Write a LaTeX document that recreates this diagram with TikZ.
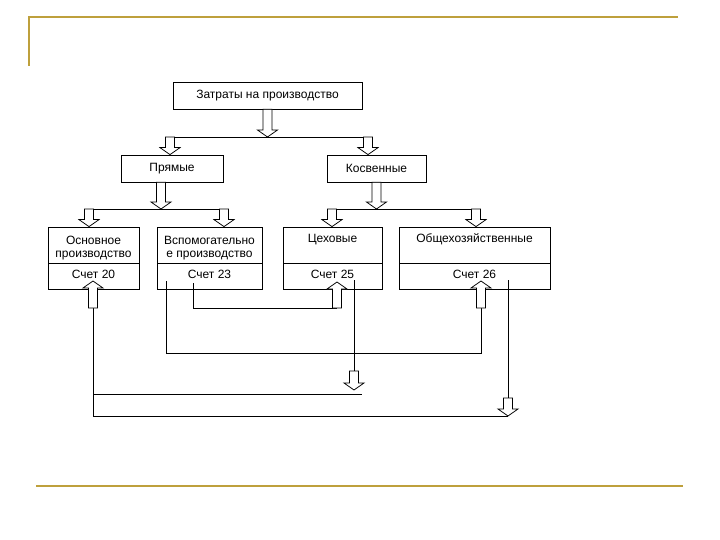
\documentclass[tikz,border=0pt]{standalone}
\usepackage{fontspec}
\setmainfont{Liberation Sans}
\usepackage{xcolor}
\usetikzlibrary{calc}
\definecolor{gold}{RGB}{190,160,60}
\newcommand\fatarrow[2]{
  \draw[fill=white] let \p1=(#1), \p2=(#2), \p3=($(#2)!7pt!(#1)$) in
    (\x1-4.5pt,\y1) -- (\x1-4.5pt,\y3) -- (\x1-10pt,\y3) -- (\x2,\y2)
    -- (\x1+10pt,\y3) -- (\x1+4.5pt,\y3) -- (\x1+4.5pt,\y1) -- cycle;
}

\begin{document}
\begin{tikzpicture}[x=1pt, y=-1pt, line width=0.75pt,
	box/.style={draw, inner sep=2pt, align=center, font=\fontsize{12}{12.5}\selectfont},
	namebox/.style={box, minimum height=36pt},
	twobox/.style={namebox, text height=27pt, text depth=3pt},
	onebox/.style={namebox, text height=12pt, text depth=18pt},
	sumbox/.style={box, minimum height=26pt, text depth=4pt, anchor=north}]
			\useasboundingbox (0,0) rectangle (720,540);
			\draw[gold, line width=2pt] (29,66) -- (29,17) -- (678,17);
			\draw[gold, line width=2pt] (36,486) -- (683,486);
			% boxes
			\node[box, minimum width=189pt, minimum height=27pt] (zat) at (267.5,95.5) {Затраты на производство};
			\node[box, minimum width=102pt, minimum height=27pt] (pr) at (172,168.5) {Прямые};
			\node[box, minimum width=99pt, minimum height=27pt] (ko) at (376.5,168.5) {Косвенные};
			\node[twobox, minimum width=91pt] (osn) at (93.5,245) {Основное\\производство};
			\node[twobox, minimum width=105pt] (vsp) at (209.5,245) {Вспомогательно\\е производство};
			\node[onebox, minimum width=99pt] (ceh) at (332.5,245) {Цеховые};
			\node[onebox, minimum width=151pt] (obs) at (474.5,245) {Общехозяйственные};
			\node[sumbox, minimum width=91pt] (osnS) at (osn.south) {Счет 20};
			\node[sumbox, minimum width=105pt] (vspS) at (vsp.south) {Счет 23};
			\node[sumbox, minimum width=99pt] (cehS) at (ceh.south) {Счет 25};
			\node[sumbox, minimum width=151pt] (obsS) at (obs.south) {Счет 26};
			% junctions
			\coordinate (j0) at (267.5,137);
			\coordinate (jl) at (170,137);
			\coordinate (jr) at (368,137);
			\coordinate (k0) at (161,209);
			\coordinate (kl) at (89,209);
			\coordinate (kr) at (224,209);
			\coordinate (m0) at (376.5,209);
			\coordinate (ml) at (332,209);
			\coordinate (mr) at (476,209);
			\draw (jl) -- (jr);
			\draw (kl) -- (kr);
			\draw (ml) -- (mr);
			\fatarrow{zat.south}{j0}
			\fatarrow{jl}{jl |- pr.north}
			\fatarrow{jr}{jr |- ko.north}
			\fatarrow{pr.south -| k0}{k0}
			\fatarrow{ko.south}{m0}
			\fatarrow{kl}{kl |- osn.north}
			\fatarrow{kr}{kr |- vsp.north}
			\fatarrow{ml}{ml |- ceh.north}
			\fatarrow{mr}{mr |- obs.north}
			% accounts
			\coordinate (a1) at (93,308);
			\coordinate (t1) at (93,281);
			\coordinate (a3) at (337,308);
			\coordinate (t3) at (337,282);
			\coordinate (a4) at (481,308);
			\coordinate (t4) at (481,281);
			\coordinate (s2a) at (166,281);
			\coordinate (s2b) at (193,283);
			\coordinate (s3) at (354,280);
			\coordinate (d3) at (354,371);
			\coordinate (e3) at (354,390);
			\coordinate (s4) at (508,280);
			\coordinate (d4) at (508,398);
			\coordinate (e4) at (508,416);
			\coordinate (c2) at (93,394);
			\coordinate (e1) at (362,394);
			\draw (a1) -- (a1 |- e4) -- (e4);
			\draw (c2) -- (e1);
			\draw (s2a) -- (s2a |- 0,353) -- (a4 |- 0,353) -- (a4);
			\draw (s2b) -- (s2b |- a3) -- (a3);
			\draw (s3) -- (d3);
			\draw (s4) -- (d4);
			\fatarrow{a1}{t1}
			\fatarrow{a3}{t3}
			\fatarrow{a4}{t4}
			\fatarrow{d3}{e3}
			\fatarrow{d4}{e4}
\end{tikzpicture}
\end{document}
